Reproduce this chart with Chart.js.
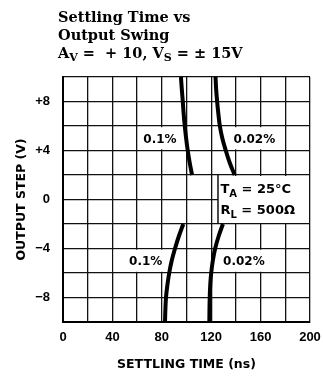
<!DOCTYPE html>
<html>
<head>
<meta charset="utf-8">
<script src="https://cdn.jsdelivr.net/npm/chart.js@4/dist/chart.umd.min.js"></script>
<style>
  html, body { margin: 0; padding: 0; background: #fff; }
  #wrap { width: 323px; height: 377px; position: relative; }
</style>
</head>
<body>
<div id="wrap"><canvas id="c" width="323" height="377"></canvas></div>
<script>
// Output step levels (V) at which settling time was read
const stepUpperV = [10, 9, 8, 7, 6, 5, 4, 3, 2];
const stepLowerV = [-2, -3, -4, -5, -6, -7, -8, -9, -10];

// Settling time (ns) for each step level
const timeUpper01  = [95.5, 96.2, 97.0, 97.7, 98.6, 99.7, 101.0, 102.6, 104.5];
const timeUpper002 = [123.5, 124.0, 124.8, 125.8, 127.0, 129.0, 131.8, 135.0, 139.0];
const timeLower01  = [97.4, 93.8, 90.7, 88.0, 86.0, 84.5, 83.4, 82.9, 82.6];
const timeLower002 = [129.5, 126.0, 123.2, 121.3, 120.0, 119.2, 118.8, 118.6, 118.5];

// Error band names written beside the curves
const bandNames = ['0.1%', '0.02%', '0.1%', '0.02%'];

// Axis tick labels
const xTickValues = [0, 40, 80, 120, 160, 200];
const xTickLabels = ['0', '40', '80', '120', '160', '200'];
const yTickValues = [8, 4, 0, -4, -8];
const yTickLabels = ['+8', '+4', '0', '\u22124', '\u22128'];

const INK = '#111';
const LABEL_FONT = 'bold 12px "DejaVu Sans"';
const NOTE_FONT = 'bold 13px "DejaVu Sans"';
const NOTE_SUB = 'bold 10px "DejaVu Sans"';

function pts(times, volts) {
  return times.map((t, i) => ({ x: t, y: volts[i] }));
}

function curve(times, volts) {
  return {
    data: pts(times, volts),
    showLine: true,
    borderColor: '#000',
    borderWidth: 4,
    pointRadius: 0,
    tension: 0.4,
    borderCapStyle: 'butt'
  };
}

// Draws text pieces in sequence; pieces flagged sub are lowered and smaller
function drawRich(ctx, parts, x, y, font, subFont, subDrop) {
  let cx = x;
  parts.forEach(p => {
    ctx.font = p.sub ? subFont : font;
    ctx.fillText(p.t, cx, y + (p.sub ? subDrop : 0));
    cx += ctx.measureText(p.t).width;
  });
}

// White cells behind the band names plus the test-condition box
const noteBoxes = {
  id: 'noteBoxes',
  beforeDatasetsDraw(chart) {
    const { ctx, scales: { x, y }, chartArea } = chart;
    ctx.save();
    ctx.fillStyle = '#fff';
    // cells (ns from, ns to, V from, V to) cleared for each band name
    const cells = [
      [60, 97, 6, 4],
      [128, 180, 6, 4],
      [40, 92, -4, -6],
      [122, 180, -4, -6]
    ];
    cells.forEach(([t0, t1, v0, v1]) => {
      const l = x.getPixelForValue(t0) + 1.2;
      const r = x.getPixelForValue(t1) - 1.2;
      const t = y.getPixelForValue(v0) + 1.2;
      const b = y.getPixelForValue(v1) - 1.2;
      ctx.fillRect(l, t, r - l, b - t);
    });
    // condition box from 125.5 ns to the right edge, +2 V to -2 V
    const bl = x.getPixelForValue(125.5);
    const bt = y.getPixelForValue(2);
    const bb = y.getPixelForValue(-2);
    ctx.fillRect(bl, bt + 1, chartArea.right - bl - 1, bb - bt - 2);
    ctx.strokeStyle = INK;
    ctx.lineWidth = 1.5;
    ctx.beginPath();
    ctx.moveTo(bl, bt);
    ctx.lineTo(bl, bb);
    ctx.stroke();
    ctx.restore();
  },
  afterDatasetsDraw(chart) {
    const { ctx, scales: { x, y } } = chart;
    ctx.save();
    ctx.fillStyle = '#000';
    ctx.textBaseline = 'middle';
    ctx.textAlign = 'center';
    ctx.font = LABEL_FONT;
    const spots = [[78.5, 4.9], [155, 4.9], [67, -5.1], [146.5, -5.1]];
    bandNames.forEach((name, i) => {
      ctx.fillText(name, x.getPixelForValue(spots[i][0]), y.getPixelForValue(spots[i][1]));
    });
    ctx.textAlign = 'left';
    ctx.textBaseline = 'alphabetic';
    const tx = x.getPixelForValue(127.5);
    drawRich(ctx, [{ t: 'T' }, { t: 'A', sub: true }, { t: ' = 25\u00B0C' }],
      tx, y.getPixelForValue(0.5), NOTE_FONT, NOTE_SUB, 4);
    drawRich(ctx, [{ t: 'R' }, { t: 'L', sub: true }, { t: ' = 500\u03A9' }],
      tx, y.getPixelForValue(-1.2), NOTE_FONT, NOTE_SUB, 4);
    ctx.restore();
  }
};

// Heading above the plot
const heading = {
  id: 'heading',
  afterDraw(chart) {
    const ctx = chart.ctx;
    ctx.save();
    ctx.fillStyle = '#000';
    ctx.textAlign = 'left';
    ctx.textBaseline = 'alphabetic';
    const f = 'bold 14.5px "DejaVu Serif"';
    const fs = 'bold 11px "DejaVu Serif"';
    ctx.font = f;
    ctx.fillText('Settling Time vs', 58, 22);
    ctx.fillText('Output Swing', 58, 40);
    drawRich(ctx, [
      { t: 'A' }, { t: 'V', sub: true }, { t: ' =  + 10, V' }, { t: 'S', sub: true }, { t: ' = \u00B1 15V' }
    ], 58, 58, f, fs, 3);
    ctx.restore();
  }
};

new Chart(document.getElementById('c'), {
  type: 'scatter',
  data: {
    datasets: [
      curve(timeUpper01, stepUpperV),
      curve(timeUpper002, stepUpperV),
      curve(timeLower01, stepLowerV),
      curve(timeLower002, stepLowerV)
    ]
  },
  options: {
    responsive: false,
    animation: false,
    events: [],
    layout: { padding: { top: 77, right: 13, left: 0, bottom: 0 } },
    plugins: { legend: { display: false }, tooltip: { enabled: false }, title: { display: false } },
    scales: {
      x: {
        type: 'linear',
        min: 0, max: 200,
        afterFit(s) { s.height = 55; s.paddingLeft = 0; s.paddingRight = 0; },
        afterBuildTicks(s) {
          s.ticks = [];
          for (let v = 0; v <= 200; v += 20) s.ticks.push({ value: v });
        },
        ticks: {
          color: '#000',
          font: { family: 'Liberation Sans', weight: 'bold', size: 13 },
          padding: 8,
          maxRotation: 0,
          autoSkip: false,
          callback(v) {
            const i = xTickValues.indexOf(v);
            return i >= 0 ? xTickLabels[i] : '';
          }
        },
        grid: { color: INK, lineWidth: 1.3, drawTicks: false },
        border: { display: true, color: '#000', width: 2 },
        title: {
          display: true,
          text: 'SETTLING TIME (ns)',
          color: '#000',
          font: { family: 'DejaVu Sans', weight: 'bold', size: 12.5 },
          padding: { top: 0, bottom: 5 }
        }
      },
      y: {
        type: 'linear',
        min: -10, max: 10,
        afterFit(s) { s.width = 63; s.paddingTop = 0; s.paddingBottom = 0; },
        afterBuildTicks(s) {
          s.ticks = [];
          for (let v = -10; v <= 10; v += 2) s.ticks.push({ value: v });
        },
        ticks: {
          color: '#000',
          font: { family: 'Liberation Sans', weight: 'bold', size: 13 },
          padding: 13,
          autoSkip: false,
          callback(v) {
            const i = yTickValues.indexOf(v);
            return i >= 0 ? yTickLabels[i] : '';
          }
        },
        grid: { color: INK, lineWidth: 1.3, drawTicks: false },
        border: { display: true, color: '#000', width: 2 },
        title: {
          display: true,
          text: 'OUTPUT STEP (V)',
          color: '#000',
          font: { family: 'DejaVu Sans', weight: 'bold', size: 12.5 },
          padding: { top: 14, bottom: 0 }
        }
      }
    }
  },
  plugins: [noteBoxes, heading]
});
</script>
</body>
</html>
